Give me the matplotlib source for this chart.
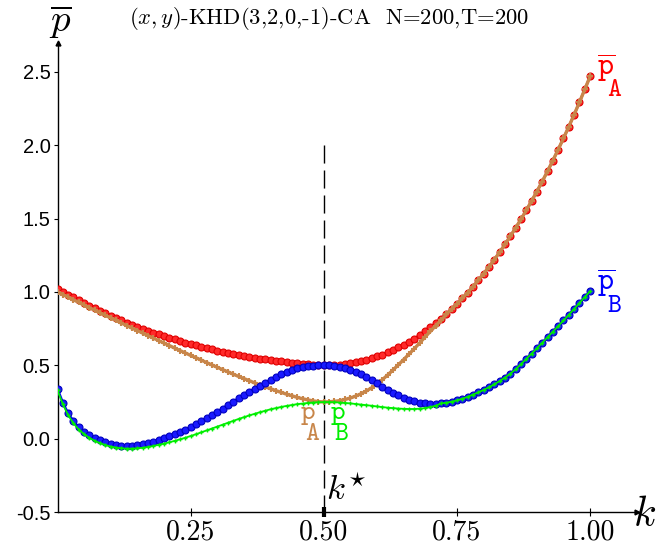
import numpy as np
import matplotlib
matplotlib.use("Agg")
import matplotlib.pyplot as plt

plt.rcParams["mathtext.fontset"] = "cm"

# cost parameter grid
k = np.round(np.arange(101) * 0.01, 2)

# mean payoff of population A (p-bar_A)
pbar_A = [
    1.020, 1.000, 0.981, 0.962, 0.943, 0.924, 0.906, 0.889, 0.871, 0.854,
    0.838, 0.822, 0.806, 0.790, 0.776, 0.763, 0.749, 0.736, 0.723, 0.711,
    0.699, 0.687, 0.676, 0.665, 0.655, 0.645, 0.635, 0.626, 0.617, 0.608,
    0.600, 0.592, 0.584, 0.577, 0.570, 0.563, 0.557, 0.551, 0.545, 0.540,
    0.535, 0.530, 0.526, 0.522, 0.518, 0.514, 0.511, 0.508, 0.505, 0.502,
    0.500, 0.501, 0.502, 0.505, 0.509, 0.514, 0.521, 0.529, 0.538, 0.548,
    0.560, 0.573, 0.588, 0.604, 0.621, 0.640, 0.660, 0.682, 0.706, 0.731,
    0.758, 0.787, 0.817, 0.849, 0.883, 0.918, 0.956, 0.995, 1.036, 1.079,
    1.124, 1.170, 1.219, 1.270, 1.323, 1.378, 1.435, 1.494, 1.555, 1.619,
    1.684, 1.752, 1.822, 1.895, 1.970, 2.047, 2.126, 2.208, 2.293, 2.380,
    2.469,
]

# payoff of population A (p_A)
p_A = [
    1.000, 0.982, 0.964, 0.946, 0.928, 0.910, 0.892, 0.875, 0.857, 0.840,
    0.823, 0.805, 0.788, 0.770, 0.753, 0.736, 0.719, 0.702, 0.685, 0.668,
    0.651, 0.634, 0.617, 0.600, 0.584, 0.567, 0.551, 0.535, 0.518, 0.502,
    0.486, 0.470, 0.455, 0.439, 0.424, 0.409, 0.395, 0.380, 0.366, 0.353,
    0.340, 0.327, 0.315, 0.303, 0.292, 0.281, 0.272, 0.264, 0.257, 0.252,
    0.250, 0.251, 0.254, 0.259, 0.267, 0.277, 0.290, 0.306, 0.325, 0.347,
    0.372, 0.402, 0.434, 0.468, 0.503, 0.539, 0.576, 0.614, 0.652, 0.692,
    0.731, 0.770, 0.805, 0.847, 0.882, 0.918, 0.956, 0.995, 1.036, 1.079,
    1.124, 1.170, 1.219, 1.270, 1.323, 1.378, 1.435, 1.494, 1.555, 1.619,
    1.684, 1.752, 1.822, 1.895, 1.970, 2.047, 2.126, 2.208, 2.293, 2.380,
    2.469,
]

# mean payoff of population B (p-bar_B)
pbar_B = [
    0.340, 0.245, 0.172, 0.118, 0.078, 0.046, 0.022, 0.003, -0.012, -0.025,
    -0.035, -0.043, -0.048, -0.050, -0.049, -0.045, -0.039, -0.031, -0.021, -0.010,
    0.002, 0.015, 0.029, 0.044, 0.060, 0.077, 0.097, 0.117, 0.138, 0.160,
    0.182, 0.205, 0.228, 0.252, 0.275, 0.298, 0.320, 0.341, 0.362, 0.382,
    0.401, 0.420, 0.437, 0.452, 0.466, 0.478, 0.487, 0.494, 0.498, 0.500,
    0.500, 0.499, 0.496, 0.490, 0.481, 0.469, 0.454, 0.437, 0.418, 0.398,
    0.377, 0.355, 0.334, 0.314, 0.295, 0.279, 0.265, 0.254, 0.246, 0.240,
    0.237, 0.237, 0.240, 0.245, 0.252, 0.261, 0.272, 0.285, 0.300, 0.315,
    0.332, 0.350, 0.370, 0.392, 0.416, 0.443, 0.472, 0.507, 0.543, 0.579,
    0.616, 0.653, 0.691, 0.729, 0.767, 0.805, 0.844, 0.884, 0.924, 0.965,
    1.005,
]

# payoff of population B (p_B)
p_B = [
    0.330, 0.235, 0.160, 0.104, 0.062, 0.030, 0.005, -0.015, -0.031, -0.044,
    -0.054, -0.061, -0.066, -0.068, -0.068, -0.066, -0.062, -0.057, -0.050, -0.042,
    -0.034, -0.025, -0.015, -0.005, 0.006, 0.018, 0.030, 0.043, 0.056, 0.069,
    0.082, 0.095, 0.108, 0.121, 0.134, 0.146, 0.158, 0.169, 0.180, 0.190,
    0.200, 0.208, 0.216, 0.223, 0.229, 0.235, 0.239, 0.243, 0.246, 0.248,
    0.249, 0.249, 0.248, 0.246, 0.243, 0.240, 0.236, 0.232, 0.228, 0.224,
    0.219, 0.215, 0.211, 0.208, 0.205, 0.203, 0.202, 0.202, 0.204, 0.208,
    0.215, 0.224, 0.240, 0.245, 0.252, 0.261, 0.272, 0.285, 0.300, 0.315,
    0.332, 0.350, 0.370, 0.392, 0.416, 0.443, 0.472, 0.507, 0.543, 0.579,
    0.616, 0.653, 0.691, 0.729, 0.767, 0.805, 0.844, 0.884, 0.924, 0.965,
    1.005,
]

k_star = 0.5
k_star_top = 2.0

y_ticks = [-0.5, 0.0, 0.5, 1.0, 1.5, 2.0, 2.5]
y_tick_labels = ["-0.5", "0.0", "0.5", "1.0", "1.5", "2.0", "2.5"]
x_ticks = [0.25, 0.50, 0.75, 1.00]
x_tick_labels = ["0.25", "0.50", "0.75", "1.00"]

RED = "#ff0000"
BROWN = "#c8864a"
BLUE = "#0000ff"
GREEN = "#00ee00"

W, H = 657, 550
fig = plt.figure(figsize=(W / 100, H / 100), dpi=100)
ax = fig.add_axes([57.5 / W, 38 / H, (637 - 57.5) / W, (512 - 43) / H])
ax.set_xlim(0, 1.088)
ax.set_ylim(-0.5, 2.696)

# reference line at k*
ax.plot([k_star, k_star], [k_star_top, -0.5], color="black", lw=1.0,
        dashes=(13, 5), zorder=2)
ax.plot([k_star], [-0.5], marker="|", ms=7, mew=3, color="black",
        clip_on=False, zorder=7)

ax.plot(k, pbar_A, "-", color=RED, lw=1.8, marker="o", ms=5,
        mfc="#ff2a2a", mec="#e00000", mew=0.8, zorder=3)
ax.plot(k, p_A, "-", color=BROWN, lw=2.4, marker="+", ms=4.5, mew=1.5,
        zorder=4)
ax.plot(k, pbar_B, "-", color=BLUE, lw=1.8, marker="o", ms=5,
        mfc="#1a1aff", mec="#0000c0", mew=0.8, zorder=5)
ax.plot(k, p_B, "-", color=GREEN, lw=1.3, marker="+", ms=3.5, mew=1.0,
        zorder=6)

# axes with arrow heads
for side in ("top", "right"):
    ax.spines[side].set_visible(False)
for side in ("left", "bottom"):
    ax.spines[side].set_linewidth(1.0)
ax.plot(1, 0, marker=">", ms=3.5, color="black", transform=ax.transAxes,
        clip_on=False)
ax.plot(0, 1, marker="^", ms=3.5, color="black", transform=ax.transAxes,
        clip_on=False)

ax.set_yticks(y_ticks)
ax.set_yticklabels(y_tick_labels, family="Liberation Sans", fontsize=14.5)
ax.tick_params(axis="y", direction="out", length=3, width=0.8, pad=2)
ax.set_xticks(x_ticks)
ax.set_xticklabels(x_tick_labels, family="cmr10", fontsize=20)
ax.tick_params(axis="x", direction="inout", length=6, width=0.8, pad=2)


def series_label(x, y, sub_dx, sub_dy, base, sub, color, size, sub_size):
    """Typewriter label: base glyph plus a large, dropped subscript."""
    ax.text(x, y, base, color=color, fontsize=size, ha="left", va="baseline")
    ax.annotate(sub, (x, y), xytext=(sub_dx, sub_dy), textcoords="offset pixels",
                color=color, fontsize=sub_size, ha="left", va="baseline")


series_label(1.013, 2.471, 10, -20, r"$\overline{\mathtt{p}}$", r"$\mathtt{A}$",
             RED, 22, 19)
series_label(1.013, 1.006, 10, -21, r"$\overline{\mathtt{p}}$", r"$\mathtt{B}$",
             BLUE, 22, 19)
series_label(0.455, 0.133, 5, -21, r"$\mathtt{p}$", r"$\mathtt{A}$",
             BROWN, 20, 19)
series_label(0.512, 0.133, 4, -21, r"$\mathtt{p}$", r"$\mathtt{B}$",
             GREEN, 20, 19)

ax.text(0.504, -0.353, r"$k^{\!\star}$", fontsize=25, ha="left", va="center")

fig.text(645 / W, 1 - 514 / H, r"$k$", fontsize=30, ha="center", va="center")
fig.text(60 / W, 1 - 22 / H, r"$\overline{p}$", fontsize=28, ha="center",
         va="center")
fig.text(329 / W, 1 - 18 / H, r"$(x,y)$-KHD(3,2,0,-1)-CA  N=200,T=200",
         family="cmr10", fontsize=16.3, ha="center", va="center")

fig.savefig("out.png", dpi=100)
